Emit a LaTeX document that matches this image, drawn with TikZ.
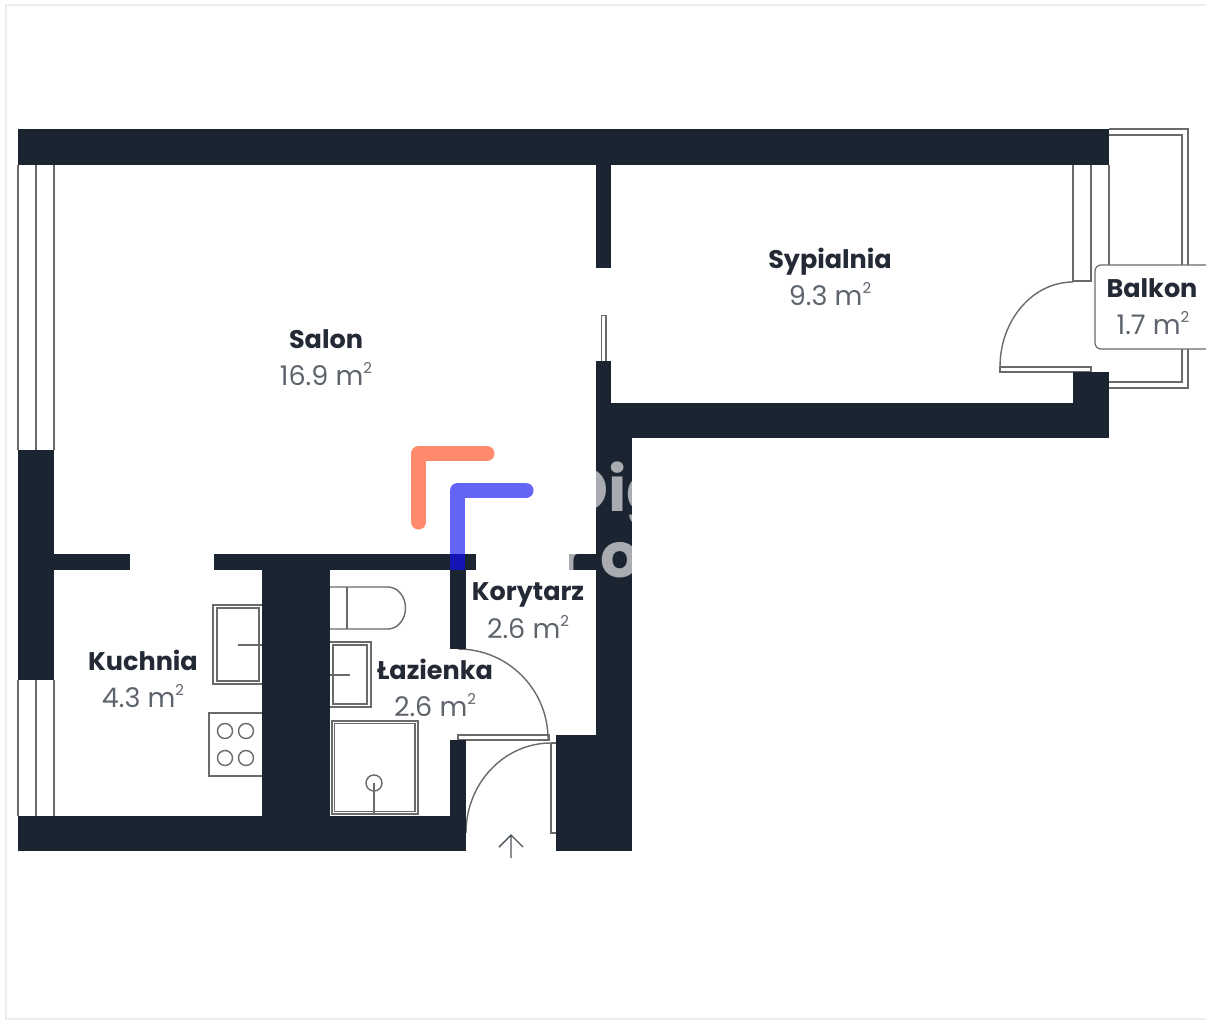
\documentclass[tikz,border=0pt]{standalone}
\usepackage{fontspec}
\setmainfont{Poppins}
\definecolor{wall}{HTML}{1B2431}
\definecolor{ink}{HTML}{6A6A6A}
\definecolor{lab}{HTML}{232A35}
\definecolor{area}{HTML}{5E646C}
\definecolor{frame}{HTML}{EEEEEE}
\definecolor{orangeL}{HTML}{FF8A6C}
\definecolor{blueL}{HTML}{6464F6}
\definecolor{blueD}{HTML}{1414B4}
\newcommand{\sqm}{m\raisebox{0.42em}{\fontsize{15}{15}\selectfont 2}}
\tikzset{
  walls/.style={fill=wall,draw=none},
  thin line/.style={draw=ink,line width=1.4pt},
  roomname/.style={text=lab,font=\fontsize{25.5}{26}\selectfont\bfseries,inner sep=0pt,anchor=center},
  roomarea/.style={text=area,font=\fontsize{27}{27}\selectfont,inner sep=0pt,anchor=center},
  accent/.style={line width=15pt,line cap=round,line join=round},
  mark text/.style={text=white,opacity=0.62,font=\fontsize{62}{62}\selectfont\bfseries,inner sep=0pt,anchor=base west}
}
\begin{document}
\begin{tikzpicture}[x=1pt,y=-1pt]
\useasboundingbox (0,0) rectangle (1206,1024);
\fill[white] (0,0) rectangle (1206,1024);
% page frame
\draw[frame,line width=2pt] (1206,5) -- (6,5) -- (6,1019) -- (1206,1019);

% windows (left)
\draw[thin line] (18,165) -- (18,450) (36,165) -- (36,450) (54,165) -- (54,450);
\draw[thin line] (18,680) -- (18,816) (36,680) -- (36,816) (54,680) -- (54,816);
% balcony
\draw[thin line] (1109,129) -- (1188,129) -- (1188,388) -- (1109,388);
\draw[thin line] (1109,135) -- (1182,135) -- (1182,382) -- (1109,382);
\draw[thin line] (1073,165) -- (1073,281) -- (1091,281) -- (1091,165);
\draw[thin line] (1109,165) -- (1109,285);
% balcony door
\draw[thin line] (1073,282) arc[start angle=-90,end angle=-180,x radius=73,y radius=85];
\draw[thin line] (1000,372) -- (1000,367) -- (1091,367) -- (1091,372) -- cycle;
% inner sliding door
\draw[thin line] (601.5,361) -- (601.5,315.5) -- (606,315.5) -- (606,361);
% bathroom door
\draw[thin line] (458,649) arc[start angle=-90,end angle=0,radius=90];
\draw[thin line] (458,740) -- (458,735) -- (549,735) -- (549,740) -- cycle;
% entrance door
\draw[thin line] (466,833) arc[start angle=180,end angle=270,x radius=85,y radius=90];
\draw[thin line] (551,743) -- (556,743) (551,743) -- (551,833) -- (556,833);
% entrance arrow
\draw[thin line,draw=lab!80!white] (511,858) -- (511,835) (499,847) -- (511,835) -- (523,847);

% walls
\fill[walls] (18,129) rectangle (1109,165);
\fill[walls] (18,450) rectangle (54,680);
\fill[walls] (18,816) rectangle (466,851);
\fill[walls] (596,165) rectangle (611,268);
\fill[walls] (596,361) rectangle (611,438);
\fill[walls] (596,403) rectangle (1109,438);
\fill[walls] (1073,372) rectangle (1109,438);
\fill[walls] (596,403) rectangle (632,851);
\fill[walls] (556,735) rectangle (632,851);
\fill[walls] (54,554) rectangle (130,570);
\fill[walls] (214,554) rectangle (476,570);
\fill[walls] (569,554) rectangle (596,570);
\fill[walls] (262,554) rectangle (330,816);
\fill[walls] (450,570) rectangle (466,649);
\fill[walls] (450,740) rectangle (466,816);

% watermark, seen only on the walls
\begin{scope}
\clip (596,438) rectangle (632,735) (569,554) rectangle (596,570);
\node[mark text] (markD) at (563,511) {Dig};
\node[mark text] (markR) at (559,577) {r};
\node[mark text] (markO) at (600,577) {o};
\end{scope}

% kitchen fittings
\draw[thin line] (262,605) -- (213,605) -- (213,684) -- (262,684);
\draw[thin line] (217,608) rectangle (259,681);
\draw[thin line] (238,645) -- (262,645);
\draw[thin line] (262,713) -- (209,713) -- (209,776) -- (262,776);
\foreach \cx/\cy in {225/731,246/731,225/758,246/758}
  \draw[thin line] (\cx,\cy) circle[radius=7.5];
% toilet
\draw[thin line] (330,587) -- (388,587) arc[start angle=-90,end angle=90,x radius=17.5,y radius=21] -- (330,629);
\draw[thin line] (347,587) -- (347,629);
% bathroom sink
\draw[thin line] (330,642) -- (371,642) -- (371,707) -- (330,707);
\draw[thin line] (333,645) rectangle (367,704);
\draw[thin line] (330,675) -- (350,675);
% shower
\draw[thin line] (332,721) rectangle (418,814);
\draw[thin line] (334.5,723.5) rectangle (415,811.5);
\draw[thin line] (374,783) circle[radius=8];
\draw[thin line] (374,783) -- (374,814);

% accent mark
\draw[accent,orangeL] (487,453.5) -- (418.5,453.5) -- (418.5,522);
\draw[accent,blueL,line cap=butt] (457.5,554) -- (457.5,490.5) -- (526,490.5);
\fill[blueL] (526,483) arc[start angle=-90,end angle=90,radius=7.5] -- cycle;
\fill[blueD] (450,554) rectangle (465,570);

% balcony label box
\draw[draw=ink,line width=1.2pt,fill=white,rounded corners=6pt] (1215,265) -- (1095,265) -- (1095,349) -- (1215,349);

% labels
\node[roomname] (salon) at (326,339) {Salon};
\node[roomarea] (salonA) at (326,374) {16.9 \sqm};
\node[roomname] (syp) at (830,262) {Sypialnia};
\node[roomarea] (sypA) at (830,294) {9.3 \sqm};
\node[roomname] (bal) at (1152,288) {Balkon};
\node[roomarea] (balA) at (1153,323) {1.7 \sqm};
\node[roomname] (kuch) at (143,660) {Kuchnia};
\node[roomarea] (kuchA) at (143,696) {4.3 \sqm};
\node[roomname] (kor) at (528,595) {Korytarz};
\node[roomarea] (korA) at (528,627) {2.6 \sqm};
\node[roomname] (laz) at (435,669) {Łazienka};
\node[roomarea] (lazA) at (435,705) {2.6 \sqm};
\end{tikzpicture}
\end{document}
